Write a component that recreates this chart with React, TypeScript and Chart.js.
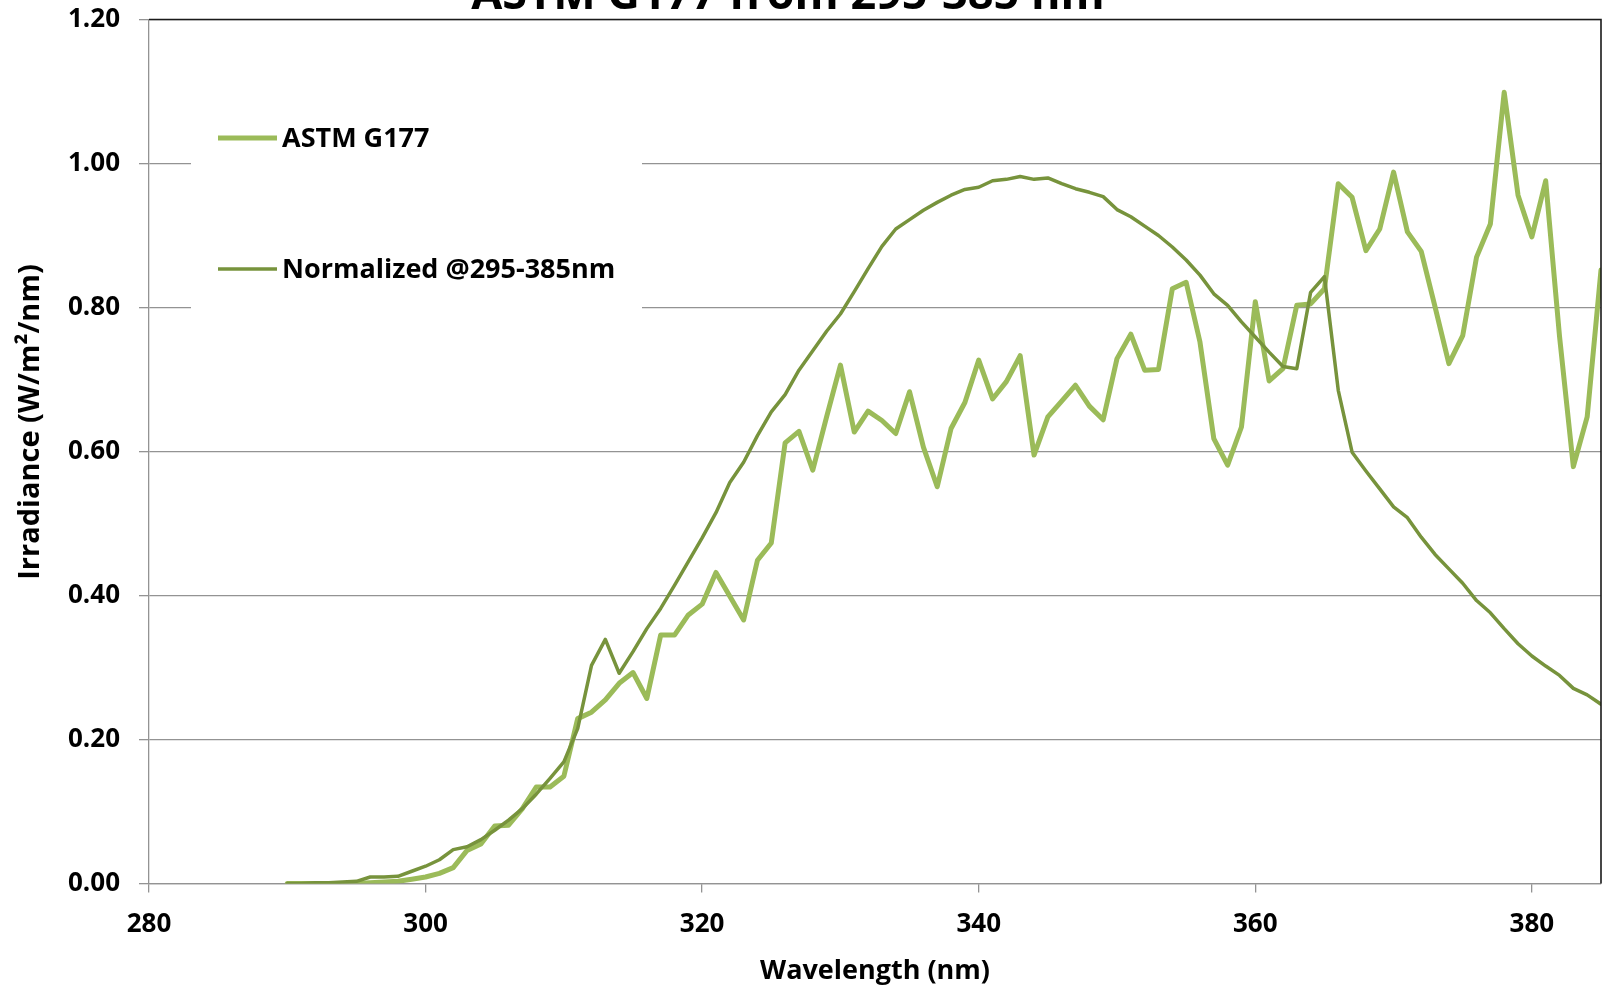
import React, { useEffect, useRef } from 'react';
import { Chart, registerables } from 'chart.js';

Chart.register(...registerables);

const FONT = '"Open Sans", "Noto Sans", sans-serif';

const chartTitle = 'ASTM G177 from 295-385 nm';
const xAxisTitle = 'Wavelength (nm)';
const yAxisTitle = 'Irradiance (W/m\u00B2/nm)';
const seriesNames = ['ASTM G177', 'Normalized @295-385nm'];
const seriesColors = ['#9BBB59', '#77933C'];

const xTicks = [280, 300, 320, 340, 360, 380];
const yTicks = [0, 0.2, 0.4, 0.6, 0.8, 1.0, 1.2];

const wavelengths = [
  290, 291, 292, 293, 294, 295, 296, 297, 298, 299,
  300, 301, 302, 303, 304, 305, 306, 307, 308, 309,
  310, 311, 312, 313, 314, 315, 316, 317, 318, 319,
  320, 321, 322, 323, 324, 325, 326, 327, 328, 329,
  330, 331, 332, 333, 334, 335, 336, 337, 338, 339,
  340, 341, 342, 343, 344, 345, 346, 347, 348, 349,
  350, 351, 352, 353, 354, 355, 356, 357, 358, 359,
  360, 361, 362, 363, 364, 365, 366, 367, 368, 369,
  370, 371, 372, 373, 374, 375, 376, 377, 378, 379,
  380, 381, 382, 383, 384, 385,
];

const astmG177 = [
  0.000, 0.000, 0.000, 0.000, 0.000, 0.000, 0.001, 0.002, 0.003, 0.006,
  0.009, 0.014, 0.022, 0.046, 0.055, 0.080, 0.081, 0.104, 0.134, 0.134,
  0.149, 0.229, 0.238, 0.255, 0.278, 0.293, 0.257, 0.345, 0.345, 0.373,
  0.388, 0.432, 0.399, 0.366, 0.449, 0.473, 0.612, 0.628, 0.574, 0.648,
  0.720, 0.627, 0.656, 0.643, 0.625, 0.683, 0.606, 0.551, 0.632, 0.668,
  0.727, 0.673, 0.697, 0.733, 0.595, 0.648, 0.670, 0.692, 0.663, 0.644,
  0.729, 0.763, 0.713, 0.714, 0.826, 0.835, 0.752, 0.618, 0.581, 0.634,
  0.808, 0.698, 0.715, 0.803, 0.805, 0.826, 0.972, 0.953, 0.879, 0.909,
  0.988, 0.905, 0.878, 0.801, 0.722, 0.761, 0.870, 0.916, 1.099, 0.956,
  0.898, 0.976, 0.760, 0.579, 0.648, 0.852,
];

const normalized = [
  0.000, 0.000, 0.001, 0.001, 0.002, 0.003, 0.009, 0.009, 0.010, 0.017,
  0.024, 0.033, 0.047, 0.051, 0.061, 0.074, 0.088, 0.104, 0.124, 0.146,
  0.169, 0.215, 0.303, 0.339, 0.292, 0.322, 0.354, 0.382, 0.414, 0.447,
  0.480, 0.515, 0.557, 0.585, 0.622, 0.655, 0.679, 0.713, 0.740, 0.767,
  0.791, 0.822, 0.854, 0.885, 0.909, 0.922, 0.935, 0.946, 0.956, 0.964,
  0.967, 0.976, 0.978, 0.982, 0.978, 0.980, 0.972, 0.965, 0.960, 0.954,
  0.936, 0.926, 0.913, 0.900, 0.884, 0.866, 0.845, 0.819, 0.803, 0.780,
  0.759, 0.738, 0.718, 0.715, 0.821, 0.843, 0.685, 0.599, 0.573, 0.548,
  0.523, 0.508, 0.481, 0.457, 0.437, 0.417, 0.393, 0.376, 0.354, 0.333,
  0.316, 0.302, 0.289, 0.271, 0.262, 0.249,
];

const GRID = '#939393';

export default function App() {
  const ref = useRef<HTMLCanvasElement>(null);

  useEffect(() => {
    const canvas = ref.current;
    if (!canvas) return;

    const overlay = {
      id: 'overlay',
      beforeDatasetsDraw(chart: any) {
        const ctx = chart.ctx;
        ctx.save();
        // legend box (white, covers gridlines)
        ctx.fillStyle = '#ffffff';
        ctx.fillRect(191, 100, 451, 225);
        const items = [
          { y: 138, w: 5 },
          { y: 269, w: 3.5 },
        ];
        items.forEach((it, i) => {
          ctx.strokeStyle = seriesColors[i];
          ctx.lineWidth = it.w;
          ctx.beginPath();
          ctx.moveTo(218, it.y);
          ctx.lineTo(277, it.y);
          ctx.stroke();
          ctx.fillStyle = '#000';
          ctx.font = `bold 27px ${FONT}`;
          ctx.textAlign = 'left';
          ctx.textBaseline = 'middle';
          ctx.fillText(seriesNames[i], 282, it.y + 1);
        });
        ctx.restore();
      },
      afterDraw(chart: any) {
        const ctx = chart.ctx;
        const a = chart.chartArea;
        ctx.save();
        // top and right plot borders
        ctx.strokeStyle = '#1a1a1a';
        ctx.lineWidth = 1.6;
        ctx.beginPath();
        ctx.moveTo(a.left, a.top);
        ctx.lineTo(a.right, a.top);
        ctx.lineTo(a.right, a.bottom);
        ctx.stroke();
        // chart title (partially outside the picture)
        ctx.fillStyle = '#000';
        ctx.font = `bold 45px ${FONT}`;
        ctx.textAlign = 'center';
        ctx.textBaseline = 'alphabetic';
        ctx.fillText(chartTitle, 788, 9);
        // y axis title
        ctx.translate(31, 422);
        ctx.rotate(-Math.PI / 2);
        ctx.font = `bold 29px ${FONT}`;
        ctx.textBaseline = 'middle';
        ctx.fillText(yAxisTitle, 0, 0);
        ctx.restore();
      },
    };

    const chart = new Chart(canvas, {
      type: 'line',
      data: {
        datasets: [
          {
            label: seriesNames[0],
            data: wavelengths.map((x, i) => ({ x, y: astmG177[i] })),
            borderColor: seriesColors[0],
            backgroundColor: seriesColors[0],
            borderWidth: 5,
            borderJoinStyle: 'round',
            borderCapStyle: 'round',
            pointRadius: 0,
            tension: 0,
            fill: false,
            order: 2,
          },
          {
            label: seriesNames[1],
            data: wavelengths.map((x, i) => ({ x, y: normalized[i] })),
            borderColor: seriesColors[1],
            backgroundColor: seriesColors[1],
            borderWidth: 3.5,
            borderJoinStyle: 'round',
            borderCapStyle: 'round',
            pointRadius: 0,
            tension: 0,
            fill: false,
            order: 1,
          },
        ],
      },
      options: {
        responsive: false,
        devicePixelRatio: 1,
        animation: false,
        layout: { padding: { top: 19.5, right: 2, left: 0, bottom: 0 } },
        plugins: {
          legend: { display: false },
          title: { display: false },
          tooltip: { enabled: false },
        },
        scales: {
          x: {
            type: 'linear',
            min: 280,
            max: 385,
            afterBuildTicks: (scale: any) => {
              scale.ticks = xTicks.map((v) => ({ value: v }));
            },
            afterFit: (scale: any) => {
              scale.height = 101.5;
              scale.paddingLeft = 0;
              scale.paddingRight = 0;
            },
            ticks: {
              color: '#000',
              font: { family: FONT, size: 26, weight: 'bold' },
              padding: 16,
              maxRotation: 0,
              callback: (v: any) => String(v),
            },
            grid: {
              drawOnChartArea: false,
              drawTicks: true,
              tickLength: 9,
              color: GRID,
              lineWidth: 1.3,
            },
            border: { display: true, color: GRID, width: 1.3 },
            title: {
              display: true,
              text: xAxisTitle,
              color: '#000',
              font: { family: FONT, size: 27, weight: 'bold', lineHeight: 1.0 },
              padding: { top: 0, bottom: 0 },
            },
          },
          y: {
            type: 'linear',
            min: 0,
            max: 1.2,
            afterBuildTicks: (scale: any) => {
              scale.ticks = yTicks.map((v) => ({ value: v }));
            },
            afterFit: (scale: any) => {
              scale.width = 149;
              scale.paddingTop = 0;
              scale.paddingBottom = 0;
            },
            ticks: {
              color: '#000',
              font: { family: FONT, size: 26, weight: 'bold' },
              padding: 19,
              callback: (v: any) => Number(v).toFixed(2),
            },
            grid: {
              drawTicks: true,
              tickLength: 10,
              color: GRID,
              lineWidth: 1.3,
            },
            border: { display: true, color: GRID, width: 1.3 },
          },
        },
      },
      plugins: [overlay],
    } as any);

    return () => chart.destroy();
  }, []);

  return (
    <div
      style={{
        position: 'fixed',
        left: 0,
        top: 0,
        width: 1603,
        height: 985,
        background: '#ffffff',
        overflow: 'hidden',
      }}
    >
      <canvas ref={ref} width={1603} height={985} style={{ display: 'block', width: 1603, height: 985 }} />
    </div>
  );
}
